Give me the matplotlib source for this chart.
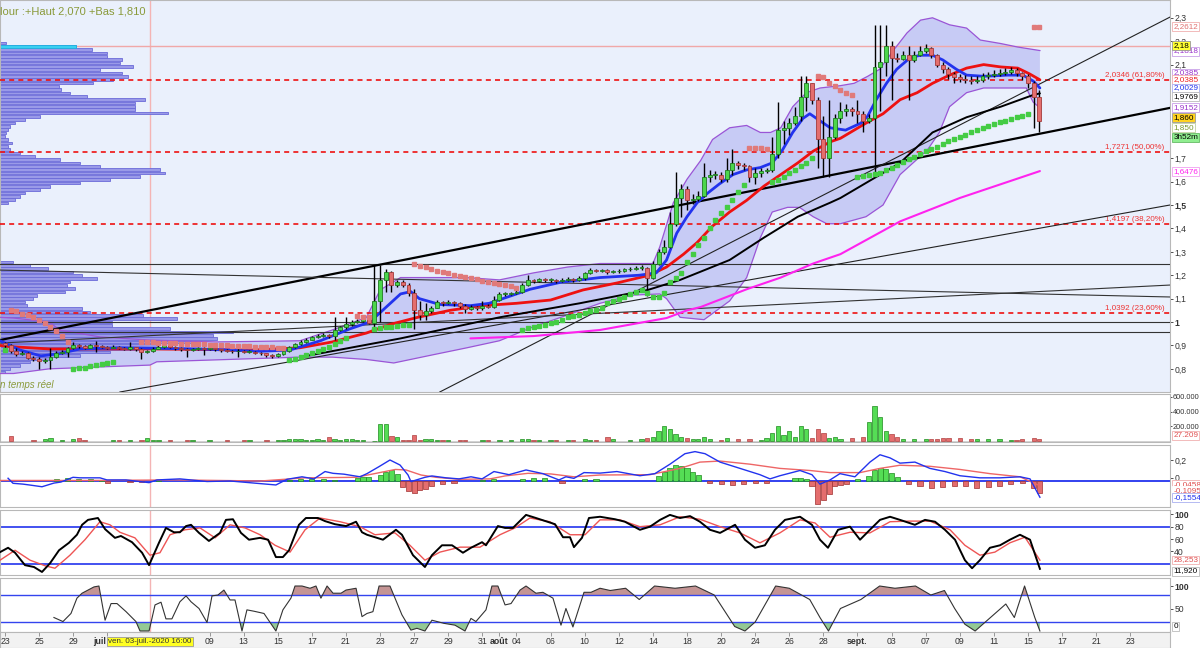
import matplotlib
matplotlib.use("Agg")
import matplotlib.pyplot as plt
import numpy as np

plt.rcParams["font.family"] = ["Liberation Sans", "DejaVu Sans"]

# 3 bars per trading day, bar i sits at day i/3 (day 0 = mardi 23 juin 2020)
first_open = 0.910
closes = [
    0.900, 0.875, 0.862, 0.866, 0.848, 0.842, 0.832, 0.836, 0.852, 0.866, 0.872, 0.890,
    0.902, 0.897, 0.890, 0.900, 0.898, 0.895, 0.890, 0.895, 0.890, 0.886, 0.892, 0.886,
    0.872, 0.876, 0.886, 0.895, 0.902, 0.894, 0.888, 0.884, 0.880, 0.885, 0.888, 0.884,
    0.887, 0.883, 0.880, 0.878, 0.875, 0.878, 0.872, 0.874, 0.868, 0.866, 0.860, 0.855,
    0.862, 0.876, 0.892, 0.906, 0.915, 0.925, 0.934, 0.940, 0.946, 0.940, 0.968, 0.978,
    0.990, 1.000, 1.005, 1.020, 0.996, 1.090, 1.180, 1.215, 1.160, 1.170, 1.160, 1.125,
    1.050, 1.030, 1.045, 1.062, 1.085, 1.080, 1.086, 1.080, 1.070, 1.055, 1.065, 1.060,
    1.070, 1.065, 1.095, 1.120, 1.120, 1.122, 1.130, 1.160, 1.180, 1.175, 1.185, 1.180,
    1.180, 1.175, 1.180, 1.185, 1.180, 1.186, 1.210, 1.222, 1.220, 1.222, 1.212, 1.216,
    1.220, 1.225, 1.226, 1.230, 1.232, 1.190, 1.250, 1.300, 1.320, 1.420, 1.530, 1.570,
    1.520, 1.525, 1.540, 1.620, 1.630, 1.630, 1.610, 1.650, 1.680, 1.670, 1.665, 1.620,
    1.635, 1.645, 1.650, 1.720, 1.820, 1.830, 1.850, 1.880, 1.960, 2.020, 1.950, 1.780,
    1.700, 1.790, 1.870, 1.900, 1.910, 1.900, 1.890, 1.860, 1.870, 2.090, 2.110, 2.180,
    2.130, 2.125, 2.140, 2.120, 2.140, 2.160, 2.170, 2.140, 2.100, 2.080, 2.060, 2.045,
    2.040, 2.035, 2.030, 2.035, 2.050, 2.055, 2.060, 2.065, 2.070, 2.075, 2.065, 2.050,
    2.020, 1.960, 1.860]
highs = [
    0.915, 0.905, 0.890, 0.875, 0.870, 0.855, 0.850, 0.845, 0.890, 0.875, 0.880, 0.895,
    0.915, 0.905, 0.900, 0.905, 0.920, 0.900, 0.898, 0.900, 0.897, 0.895, 0.915, 0.895,
    0.890, 0.882, 0.892, 0.900, 0.908, 0.905, 0.897, 0.892, 0.888, 0.890, 0.895, 0.892,
    0.893, 0.890, 0.886, 0.884, 0.882, 0.900, 0.880, 0.880, 0.876, 0.872, 0.868, 0.864,
    0.868, 0.882, 0.898, 0.912, 0.922, 0.932, 0.942, 0.948, 0.952, 0.950, 1.020, 0.985,
    1.020, 1.008, 1.012, 1.030, 1.025, 1.245, 1.245, 1.225, 1.220, 1.180, 1.180, 1.165,
    1.140, 1.090, 1.080, 1.070, 1.095, 1.090, 1.095, 1.090, 1.085, 1.075, 1.072, 1.070,
    1.090, 1.075, 1.110, 1.130, 1.128, 1.130, 1.140, 1.168, 1.200, 1.185, 1.190, 1.188,
    1.190, 1.185, 1.190, 1.192, 1.190, 1.195, 1.215, 1.230, 1.228, 1.228, 1.225, 1.222,
    1.228, 1.232, 1.235, 1.240, 1.245, 1.235, 1.260, 1.310, 1.350, 1.470, 1.640, 1.590,
    1.580, 1.545, 1.560, 1.680, 1.650, 1.645, 1.640, 1.700, 1.740, 1.690, 1.680, 1.670,
    1.660, 1.660, 1.660, 1.790, 1.940, 1.860, 1.870, 1.920, 2.050, 2.050, 2.000, 1.960,
    1.880, 1.950, 1.890, 1.940, 1.930, 1.920, 1.950, 1.900, 1.890, 2.270, 2.270, 2.270,
    2.200, 2.150, 2.160, 2.180, 2.160, 2.180, 2.190, 2.175, 2.145, 2.110, 2.090, 2.070,
    2.060, 2.055, 2.050, 2.050, 2.065, 2.070, 2.075, 2.080, 2.085, 2.090, 2.085, 2.070,
    2.060, 2.030, 1.990]
lows = [
    0.890, 0.868, 0.855, 0.858, 0.840, 0.835, 0.800, 0.825, 0.800, 0.848, 0.862, 0.850,
    0.885, 0.890, 0.884, 0.888, 0.870, 0.890, 0.885, 0.887, 0.884, 0.880, 0.882, 0.875,
    0.840, 0.868, 0.872, 0.884, 0.890, 0.888, 0.882, 0.878, 0.850, 0.876, 0.880, 0.860,
    0.880, 0.877, 0.874, 0.872, 0.868, 0.850, 0.866, 0.868, 0.862, 0.858, 0.852, 0.845,
    0.850, 0.858, 0.872, 0.888, 0.902, 0.912, 0.922, 0.930, 0.935, 0.930, 0.925, 0.960,
    0.972, 0.985, 0.995, 1.000, 0.990, 0.970, 1.000, 1.130, 1.130, 1.150, 1.150, 1.110,
    0.970, 1.010, 1.010, 1.040, 1.058, 1.070, 1.075, 1.070, 1.060, 1.040, 1.050, 1.050,
    1.050, 1.058, 1.060, 1.090, 1.112, 1.115, 1.118, 1.125, 1.155, 1.165, 1.170, 1.172,
    1.170, 1.165, 1.170, 1.175, 1.170, 1.175, 1.180, 1.205, 1.212, 1.212, 1.205, 1.208,
    1.210, 1.215, 1.218, 1.222, 1.222, 1.110, 1.185, 1.245, 1.290, 1.315, 1.410, 1.450,
    1.480, 1.505, 1.515, 1.535, 1.600, 1.610, 1.600, 1.600, 1.630, 1.655, 1.650, 1.600,
    1.590, 1.620, 1.635, 1.640, 1.700, 1.760, 1.800, 1.840, 1.860, 1.900, 1.930, 1.660,
    1.620, 1.620, 1.780, 1.850, 1.880, 1.880, 1.850, 1.810, 1.850, 1.640, 1.900, 2.050,
    1.950, 2.110, 2.120, 1.950, 2.110, 2.135, 2.150, 2.130, 2.090, 2.065, 2.040, 2.020,
    2.025, 2.020, 2.015, 2.020, 2.025, 2.040, 2.045, 2.050, 2.055, 2.060, 2.050, 2.035,
    2.000, 1.830, 1.810]

# volume (thousands) for the bars that show a visible column
vol_bar = [1, 5, 7, 8, 10, 12, 13, 14, 19, 20, 22, 24, 25, 26, 27, 29, 32, 33, 36, 39,
           42, 43, 46, 48, 49, 50, 51, 52, 53, 54, 55, 56, 57, 58, 59, 60, 61, 62, 63, 65,
           66, 67, 68, 69, 70, 71, 72, 73, 74, 75, 76, 77, 78, 80, 81, 84, 85, 87, 89, 91,
           92, 93, 94, 96, 97, 99, 100, 102, 103, 104, 106, 107, 110, 112, 113, 114, 115, 116, 117, 118,
           119, 120, 121, 122, 123, 124, 126, 127, 129, 131, 133, 134, 135, 136, 137, 138, 139, 140, 141, 142,
           143, 144, 145, 146, 147, 149, 151, 152, 153, 154, 155, 156, 157, 158, 160, 162, 163, 164, 165, 166,
           168, 170, 171, 173, 175, 177, 178, 179, 181, 182]
vol_k = [62, 12, 25, 42, 12, 25, 42, 12, 12, 12, 12, 12, 42, 12, 12, 12, 12, 12, 12, 12,
         16, 8, 12, 12, 12, 25, 25, 25, 16, 16, 33, 8, 50, 29, 12, 25, 25, 12, 12, 4,
         229, 237, 75, 50, 12, 8, 83, 12, 25, 33, 12, 12, 12, 12, 12, 12, 8, 16, 12, 25,
         25, 12, 12, 12, 12, 12, 12, 25, 12, 12, 50, 30, 12, 30, 40, 60, 140, 200, 160, 100,
         60, 40, 30, 25, 50, 30, 20, 40, 30, 30, 20, 40, 110, 200, 80, 140, 60, 200, 160, 40,
         160, 110, 40, 60, 30, 40, 50, 260, 475, 325, 140, 90, 50, 30, 30, 25, 25, 30, 40, 35,
         40, 30, 25, 30, 25, 20, 20, 25, 40, 27]

# MACD histogram, bars with a visible column
macd_hist_bar = [9, 11, 13, 15, 17, 18, 22, 24, 27, 50, 52, 54, 56, 58, 62, 63, 64, 66, 67, 68,
                 69, 70, 71, 72, 73, 74, 75, 77, 79, 84, 86, 91, 93, 95, 98, 102, 104, 115, 116, 117,
                 118, 119, 120, 121, 122, 124, 126, 128, 130, 132, 134, 139, 140, 141, 142, 143, 144, 145, 146, 147,
                 148, 150, 152, 153, 154, 155, 156, 157, 159, 161, 163, 165, 167, 169, 171, 173, 175, 177, 179, 181,
                 182]
macd_hist = [0.015, 0.025, 0.02, 0.015, 0.01, -0.02, -0.01, -0.012, 0.01, 0.012, 0.015, 0.02, 0.015, 0.012, 0.03, 0.035, 0.04, 0.06, 0.09, 0.10,
             0.07, -0.06, -0.10, -0.11, -0.09, -0.08, -0.05, -0.03, -0.02, 0.01, 0.015, 0.02, 0.03, 0.025, -0.02, 0.02, 0.015, 0.05, 0.09, 0.12,
             0.15, 0.14, 0.12, 0.09, 0.06, -0.02, -0.03, -0.04, -0.03, -0.02, -0.02, 0.03, 0.03, 0.02, -0.05, -0.22, -0.18, -0.12, -0.05, -0.04,
             -0.03, 0.02, 0.05, 0.10, 0.12, 0.11, 0.08, 0.04, -0.03, -0.05, -0.07, -0.06, -0.05, -0.05, -0.07, -0.06, -0.05, -0.03, -0.02, -0.07,
             -0.11]

# (day, value) readings of the indicator curves
blue_ma = [(-0.3, 0.92), (0.9, 0.88), (2.1, 0.855), (3.2, 0.865), (4.4, 0.885), (6.7, 0.89), (11.4, 0.885),
           (15.0, 0.875), (16.7, 0.88), (18.5, 0.92), (20.2, 0.97), (21.4, 1.0), (22.3, 1.06), (23.2, 1.12),
           (23.8, 1.13), (24.3, 1.10), (25.5, 1.075), (27.3, 1.07), (28.4, 1.08), (29.6, 1.11), (30.8, 1.14),
           (32.6, 1.17), (34.9, 1.19), (37.2, 1.20), (38.2, 1.21), (38.8, 1.265), (39.4, 1.38), (40.0, 1.45),
           (40.6, 1.51), (41.2, 1.55), (41.9, 1.59), (42.7, 1.63), (43.5, 1.65), (44.3, 1.66), (45.0, 1.68),
           (45.6, 1.735), (46.2, 1.81), (46.8, 1.87), (47.2, 1.89), (47.8, 1.86), (48.4, 1.83), (49.3, 1.82),
           (50.2, 1.85), (50.6, 1.88), (51.1, 1.95), (51.7, 2.02), (52.3, 2.08), (53.1, 2.13), (53.7, 2.14),
           (54.4, 2.14), (55.0, 2.12), (55.8, 2.08), (56.4, 2.055), (57.4, 2.05), (58.8, 2.055), (59.7, 2.055),
           (60.3, 2.03), (60.7, 2.0)]
red_ma = [(-0.3, 0.90), (0.3, 0.895), (2.6, 0.885), (5.6, 0.885), (8.5, 0.885), (11.4, 0.883), (14.4, 0.88),
          (17.3, 0.89), (19.2, 0.915), (21.2, 0.953), (22.6, 0.99), (24.2, 1.02), (26.1, 1.05), (28.0, 1.07),
          (30.0, 1.08), (32.0, 1.094), (33.9, 1.137), (35.9, 1.167), (37.8, 1.20), (38.8, 1.235), (39.8, 1.29),
          (40.6, 1.34), (41.5, 1.41), (42.5, 1.47), (43.5, 1.52), (44.5, 1.58), (45.5, 1.63), (46.5, 1.68),
          (47.4, 1.73), (48.4, 1.77), (49.0, 1.785), (50.5, 1.85), (51.5, 1.89), (52.5, 1.95), (53.5, 1.98),
          (54.4, 2.02), (55.4, 2.055), (56.4, 2.085), (57.4, 2.10), (58.4, 2.09), (59.4, 2.085), (60.1, 2.06),
          (60.7, 2.035)]
black_ma = [(17.3, 0.85), (23.2, 0.93), (29.0, 1.02), (33.7, 1.08), (37.7, 1.137), (39.6, 1.18), (42.5, 1.265),
            (44.5, 1.36), (46.5, 1.45), (48.4, 1.51), (49.0, 1.53), (52.5, 1.68), (54.4, 1.81), (56.4, 1.875),
            (58.4, 1.92), (60.3, 1.97), (60.7, 1.977)]
magenta_ma = [(27.3, 0.93), (31.0, 0.94), (34.9, 0.966), (38.8, 1.017), (40.0, 1.05), (40.8, 1.064), (43.5, 1.14),
              (45.5, 1.19), (47.4, 1.25), (49.0, 1.29), (52.5, 1.43), (56.0, 1.53), (60.7, 1.645)]
bb_upper = [(-0.3, 1.02), (0.5, 1.017), (2.6, 1.0), (3.2, 0.966), (5.6, 0.936), (8.5, 0.923), (12.4, 0.915),
            (17.3, 0.92), (19.2, 0.966), (21.2, 1.02), (22.0, 1.137), (23.2, 1.19), (25.1, 1.19), (27.1, 1.19),
            (29.0, 1.18), (31.0, 1.21), (33.0, 1.235), (34.9, 1.25), (36.8, 1.25), (38.0, 1.25), (38.4, 1.32),
            (39.2, 1.51), (40.0, 1.61), (40.8, 1.69), (41.5, 1.78), (42.5, 1.83), (43.5, 1.84), (44.3, 1.81),
            (44.9, 1.81), (45.5, 1.83), (46.2, 1.92), (47.0, 1.98), (47.8, 2.0), (49.0, 2.01), (49.8, 2.02),
            (50.6, 2.05), (51.3, 2.08), (52.1, 2.16), (52.9, 2.235), (53.7, 2.29), (54.4, 2.30), (55.4, 2.27),
            (56.4, 2.256), (57.2, 2.205), (58.4, 2.19), (59.4, 2.175), (60.7, 2.16)]
bb_lower = [(-0.3, 0.78), (0.5, 0.78), (2.6, 0.80), (8.5, 0.816), (8.9, 0.83), (17.3, 0.85), (19.2, 0.85),
            (21.2, 0.84), (22.8, 0.825), (25.1, 0.86), (27.1, 0.89), (29.0, 0.92), (31.0, 0.98), (33.0, 1.03),
            (34.9, 1.08), (36.8, 1.115), (38.4, 1.12), (38.8, 1.10), (39.6, 1.02), (41.0, 1.01), (42.5, 1.09),
            (43.5, 1.19), (44.3, 1.36), (45.0, 1.47), (45.9, 1.49), (46.6, 1.49), (47.4, 1.45), (48.2, 1.42),
            (49.0, 1.42), (50.5, 1.45), (51.5, 1.50), (52.5, 1.63), (54.1, 1.735), (54.8, 1.81), (55.4, 1.92),
            (56.4, 1.98), (57.4, 2.0), (58.8, 2.0), (59.9, 2.0), (60.3, 1.94), (60.7, 1.915)]

# parabolic SAR: (first bar, values)
sar_segments = [
    (0, [0.880]),
    (1, [1.050, 1.045, 1.035, 1.028, 1.020, 1.008, 0.995, 0.980, 0.962, 0.940, 0.915]),
    (12, [0.800, 0.802, 0.805, 0.810, 0.815, 0.820, 0.825, 0.830]),
    (24, [0.915, 0.914, 0.913, 0.912, 0.911, 0.910, 0.909, 0.908, 0.907, 0.906, 0.905, 0.904, 0.903,
          0.902, 0.901, 0.900, 0.899, 0.898, 0.897, 0.896, 0.895, 0.894, 0.893, 0.892, 0.890, 0.888]),
    (50, [0.838, 0.842, 0.850, 0.858, 0.867, 0.875, 0.884, 0.893, 0.905, 0.918, 0.930]),
    (62, [1.025, 1.022, 1.020]),
    (65, [0.970, 0.974, 0.977, 0.980, 0.983, 0.986, 0.988]),
    (72, [1.248, 1.240, 1.233, 1.226, 1.220, 1.214, 1.208, 1.202, 1.197, 1.192, 1.187, 1.182, 1.177,
          1.172, 1.167, 1.162, 1.157, 1.152, 1.147]),
    (91, [0.965, 0.975, 0.979, 0.983, 0.989, 0.995, 1.002, 1.009, 1.020, 1.025, 1.030, 1.038, 1.045,
          1.052, 1.060, 1.080, 1.090, 1.100, 1.109, 1.118, 1.128, 1.137, 1.124, 1.107, 1.107, 1.124,
          1.170, 1.190, 1.210, 1.256, 1.290, 1.330, 1.360, 1.400, 1.435, 1.465, 1.490, 1.520, 1.555, 1.585]),
    (131, [1.745, 1.745, 1.742, 1.740]),
    (135, [1.600, 1.605, 1.620, 1.635, 1.650, 1.665, 1.680, 1.700]),
    (143, [2.050, 2.045, 2.020, 2.010, 1.990, 1.980, 1.970]),
    (150, [1.620, 1.625, 1.630, 1.632, 1.636, 1.648, 1.660, 1.672, 1.685, 1.695, 1.705, 1.718, 1.730,
           1.740, 1.750, 1.762, 1.772, 1.780, 1.790, 1.800, 1.810, 1.820, 1.830, 1.838, 1.845, 1.855,
           1.860, 1.868, 1.875, 1.880, 1.890]),
    (181, [2.262, 2.261]),
]

macd_line = [(0.18, 0.026), (0.47, -0.022), (1.06, -0.03), (1.52, -0.04), (2.17, -0.055), (2.87, -0.02),
             (3.28, -0.01), (3.99, 0.035), (4.40, 0.03), (5.57, 0.03), (5.98, 0.01), (7.10, 0.01),
             (8.45, -0.016), (8.91, 0.01), (10.26, 0.02), (11.85, -0.005), (13.20, 0.0), (15.89, -0.038),
             (16.54, 0.016), (17.42, 0.04), (18.12, 0.02), (18.77, 0.09), (19.24, 0.073), (19.88, 0.065),
             (20.82, 0.04), (21.23, 0.07), (21.94, 0.137), (22.58, 0.2), (23.17, 0.152), (23.64, 0.057),
             (23.81, -0.006), (24.63, 0.035), (25.04, 0.048), (25.87, 0.03), (26.63, 0.02), (27.33, 0.04),
             (27.98, 0.02), (28.68, 0.09), (29.56, 0.06), (30.56, 0.105), (31.55, 0.07), (32.49, 0.01),
             (32.90, 0.04), (33.37, 0.025), (33.96, 0.08), (34.90, 0.075), (35.89, 0.09), (37.24, 0.05),
             (38.12, 0.07), (39.0, 0.16), (39.88, 0.26), (40.47, 0.28), (41.06, 0.26), (41.94, 0.18),
             (43.11, 0.12), (44.28, 0.06), (44.87, 0.02), (45.45, 0.05), (46.63, 0.10), (47.33, 0.06),
             (47.80, -0.03), (48.39, 0.01), (48.97, 0.07), (49.85, 0.04), (50.73, 0.18), (51.32, 0.25),
             (51.91, 0.22), (52.49, 0.17), (53.37, 0.18), (54.25, 0.12), (55.13, 0.09), (56.01, 0.05),
             (57.18, 0.03), (58.36, 0.03), (59.53, 0.04), (60.12, 0.02), (60.70, -0.155)]
macd_signal = [(-0.3, 0.005), (5.0, 0.005), (10.0, 0.01), (15.0, 0.0), (17.6, 0.03), (20.6, 0.035),
               (22.9, 0.11), (23.52, 0.105), (24.40, 0.057), (25.28, 0.035), (26.63, 0.016), (28.45, 0.02),
               (29.33, 0.048), (30.67, 0.073), (32.02, 0.067), (33.37, 0.04), (34.90, 0.057), (37.83, 0.06),
               (39.59, 0.12), (40.76, 0.18), (41.94, 0.19), (43.70, 0.16), (45.45, 0.12), (47.21, 0.10),
               (48.39, 0.08), (50.15, 0.08), (51.32, 0.12), (52.49, 0.15), (54.25, 0.14), (56.01, 0.11),
               (57.77, 0.07), (59.53, 0.04), (60.70, -0.046)]

stoch_k = [(-0.29, 39), (0.18, 46), (0.59, 38), (1.17, 18), (1.70, 15), (2.17, 7), (2.64, 21), (3.17, 42),
           (3.75, 54), (4.22, 67), (4.52, 83), (4.87, 91), (5.45, 94), (5.87, 76), (6.45, 62), (6.80, 65),
           (7.45, 55), (8.04, 38), (8.45, 18), (9.03, 54), (9.44, 78), (9.91, 71), (10.26, 71), (10.62, 81),
           (10.91, 83), (11.38, 70), (11.96, 57), (12.61, 70), (12.96, 91), (13.37, 92), (13.84, 70),
           (14.31, 59), (14.96, 62), (15.43, 59), (15.89, 31), (16.30, 31), (16.66, 42), (17.24, 83),
           (17.65, 94), (18.36, 94), (18.77, 89), (19.35, 84), (20.00, 81), (20.59, 88), (20.94, 71),
           (21.23, 67), (22.17, 59), (22.93, 75), (23.28, 67), (23.93, 34), (24.63, 15), (25.04, 34),
           (25.63, 50), (26.22, 50), (26.86, 38), (27.33, 46), (27.98, 55), (28.21, 50), (28.91, 81),
           (29.33, 78), (29.79, 78), (30.56, 99), (31.14, 94), (32.26, 84), (32.73, 63), (33.14, 63),
           (33.37, 47), (33.84, 62), (34.25, 94), (34.90, 96), (35.78, 92), (36.36, 88), (37.24, 75),
           (37.83, 80), (38.42, 91), (39.00, 99), (39.59, 94), (40.18, 97), (40.76, 88), (41.35, 75),
           (41.94, 70), (42.82, 83), (43.40, 59), (43.99, 46), (44.57, 50), (45.16, 75), (45.75, 91),
           (46.63, 96), (47.33, 83), (47.80, 59), (48.27, 46), (48.86, 75), (49.56, 80), (50.15, 59),
           (50.73, 75), (51.32, 91), (51.91, 96), (52.49, 91), (53.37, 83), (53.96, 91), (54.55, 88),
           (55.13, 75), (55.72, 59), (56.30, 26), (56.72, 13), (57.18, 26), (57.77, 46), (58.36, 50),
           (58.94, 59), (59.53, 67), (60.12, 59), (60.70, 12)]
stoch_d = [(-0.29, 26), (0.59, 42), (1.47, 26), (2.35, 17), (2.93, 13), (3.81, 34), (4.69, 59), (5.57, 88),
           (6.16, 83), (6.74, 71), (7.62, 62), (8.50, 34), (9.09, 38), (9.68, 67), (10.56, 75), (11.44, 78),
           (12.32, 62), (13.20, 83), (14.08, 78), (14.96, 67), (15.84, 50), (16.72, 39), (17.60, 75),
           (18.48, 94), (19.65, 88), (20.82, 80), (21.70, 67), (22.87, 70), (23.75, 50), (24.63, 26),
           (25.51, 39), (26.69, 47), (27.86, 47), (29.03, 67), (29.91, 78), (30.79, 94), (31.96, 88),
           (33.14, 67), (34.02, 67), (34.90, 91), (36.07, 91), (37.24, 80), (38.42, 83), (39.59, 96),
           (40.76, 92), (41.94, 80), (43.11, 70), (44.28, 54), (45.45, 70), (46.63, 91), (47.51, 86),
           (48.39, 63), (49.56, 71), (50.73, 70), (51.91, 88), (53.08, 89), (54.25, 89), (55.43, 75),
           (56.30, 50), (57.18, 34), (58.06, 39), (58.94, 54), (59.82, 63), (60.70, 26)]

osc = [(2.87, 30), (3.40, 21), (3.87, 39), (4.22, 73), (4.52, 84), (5.22, 98), (5.51, 100), (5.87, 24),
       (6.22, 61), (6.57, 61), (7.10, 43), (7.68, 21), (7.92, 0), (8.45, 0), (8.80, 58), (9.15, 64),
       (9.44, 27), (9.79, 27), (10.26, 65), (10.62, 78), (10.91, 65), (11.38, 50), (11.85, 19), (12.14, 78),
       (12.49, 80), (12.84, 91), (13.20, 69), (13.49, 69), (13.90, 0), (14.19, 47), (14.60, 44), (15.19, 39),
       (15.89, 0), (16.30, 47), (16.77, 73), (17.01, 100), (17.42, 100), (17.89, 95), (18.24, 100),
       (18.53, 73), (18.89, 100), (19.24, 84), (19.71, 84), (20.00, 91), (20.59, 95), (20.94, 32),
       (21.23, 39), (21.58, 43), (21.94, 100), (22.58, 100), (23.28, 36), (23.81, 2), (24.16, 6), (24.63, 0),
       (25.04, 24), (25.75, 17), (26.39, 13), (26.98, 0), (27.33, 28), (27.62, 21), (28.21, 47), (28.56, 100),
       (28.91, 100), (29.33, 58), (29.68, 61), (30.21, 91), (30.56, 100), (31.14, 84), (31.55, 86),
       (32.14, 73), (32.61, 13), (32.90, 50), (33.31, 9), (33.96, 86), (34.37, 86), (34.90, 95),
       (35.5, 90), (36.4, 95), (37.2, 70), (38.1, 100), (39.3, 95), (40.5, 100), (41.6, 80), (42.8, 10),
       (43.4, 0), (44.0, 20), (45.2, 100), (46.0, 95), (47.2, 70), (47.8, 30), (48.3, 0), (49.0, 50),
       (50.2, 70), (51.3, 100), (52.2, 95), (53.4, 100), (54.3, 80), (55.1, 90), (55.7, 50), (56.3, 15),
       (56.9, 0), (57.5, 20), (58.1, 40), (58.7, 60), (59.2, 30), (59.8, 100), (60.4, 30), (60.7, 0)]

# volume-at-price profile on the left edge (lengths in screen units)
vp_top_len = [6, 76, 92, 107, 107, 122, 120, 133, 100, 122, 128, 113, 93, 59, 61, 70, 87, 145, 135, 135,
              135, 168, 40, 25, 15, 10, 8, 6, 5, 8, 12, 8, 10, 20, 35, 60, 80, 100, 160, 165,
              140, 110, 80, 50, 40, 25, 20, 15, 8]
vp_low_len = [13, 30, 48, 73, 82, 97, 70, 67, 75, 65, 37, 33, 25, 27, 82, 90, 143, 177, 112, 112,
              170, 233, 213, 217, 200, 157, 140, 110, 80, 50, 30, 20, 10, 5]

fib_levels = [2.0346, 1.7271, 1.4197, 1.0392]
fib_labels = ["2,0346 (61,80%)", "1,7271 (50,00%)", "1,4197 (38,20%)", "1,0392 (23,60%)"]

date_days = [0, 2, 4, 6, 12, 14, 16, 18, 20, 22, 24, 26, 28, 29, 30, 32, 34, 36, 38, 40, 42, 44, 46, 48,
             50, 52, 54, 56, 58, 60, 62, 64, 66]
date_labels = ["23", "25", "29", "juil", "09", "13", "15", "17", "21", "23", "27", "29", "31", "août", "04",
               "06", "10", "12", "14", "18", "20", "24", "26", "28", "sept.", "03", "07", "09", "11", "15",
               "17", "21", "23"]

# ---------------------------------------------------------------- figure
W, H = 1200, 648
XMIN, XMAX = -0.293, 68.33
fig = plt.figure(figsize=(12, 6.48), dpi=100)
fig.patch.set_facecolor("white")


def panel(top, bottom, bg="white"):
    ax = fig.add_axes([0, 1 - bottom / H, 1170 / W, (bottom - top) / H])
    ax.set_xlim(XMIN, XMAX)
    ax.set_facecolor(bg)
    ax.set_xticks([])
    ax.yaxis.tick_right()
    ax.tick_params(axis="y", direction="out", length=2, labelsize=6.2, pad=1,
                   colors="#333333", width=0.6)
    for s in ax.spines.values():
        s.set_color("#b8b8b8")
    ax.axvline(8.5, color="#f4b4b4", lw=1.0, zorder=0.5)
    return ax


def tag(ax, y, text, color, face="white", edge=None):
    ax.annotate(text, xy=(1.0, y), xycoords=("axes fraction", "data"), xytext=(2.5, 0),
                textcoords="offset points", fontsize=5.9, color=color, va="center", ha="left",
                bbox=dict(boxstyle="square,pad=0.12", fc=face, ec=edge or "#bbbbbb", lw=0.6),
                annotation_clip=False, zorder=10)


def unzip(pts):
    return [p[0] for p in pts], [p[1] for p in pts]


ax = panel(0, 392, bg="#eaf0fc")
ax.set_ylim(0.701, 2.376)

# volume profile
step = 0.01425
top_p = 2.1923 - step * np.arange(len(vp_top_len))
low_p = 1.2564 - step * np.arange(len(vp_low_len))
to_days = 1 / 17.05
ax.barh(top_p, np.array(vp_top_len) * to_days, height=step * 0.85, left=XMIN,
        color="#9a9ae8", edgecolor="#6a6ad8", lw=0.6, zorder=2)
ax.barh(top_p[1], vp_top_len[1] * to_days, height=step * 0.85, left=XMIN,
        color="#38d0f0", edgecolor="#20b0e0", lw=0.6, zorder=2.1)
ax.barh(low_p, np.array(vp_low_len) * to_days, height=step * 0.85, left=XMIN,
        color="#9a9ae8", edgecolor="#6a6ad8", lw=0.6, zorder=2)

# bollinger bands
ux, uy = unzip(bb_upper)
lx, ly = unzip(bb_lower)
ax.fill(ux + lx[::-1], uy + ly[::-1], color="#c6c9f5", alpha=0.95, zorder=1, lw=0)
ax.plot(ux, uy, color="#9a55d6", lw=0.9, zorder=3)
ax.plot(lx, ly, color="#9a55d6", lw=0.9, zorder=3)

# horizontal levels and trend lines
ax.axhline(2.18, color="#f0a8a8", lw=1.0, zorder=1.5)
for lv in [1.248, 1.0, 0.957]:
    ax.axhline(lv, color="#333333", lw=0.8, zorder=3)
for lv, lab in zip(fib_levels, fib_labels):
    ax.axhline(lv, color="#ee1111", lw=1.2, ls=(0, (3, 2.5)), zorder=3)
    ax.text(68.0, lv + 0.004, lab, color="#ee3333", fontsize=5.8, ha="right", va="bottom", zorder=3)
ax.plot([XMIN, XMAX], [0.923, 1.915], color="black", lw=1.6, zorder=3)
ax.plot([25.5, XMAX], [0.701, 2.303], color="#222222", lw=0.8, zorder=3)
ax.plot([6.74, XMAX], [0.701, 1.50], color="#222222", lw=0.8, zorder=3)
ax.plot([XMIN, XMAX], [1.222, 1.107], color="#333333", lw=0.8, zorder=3)
ax.plot([XMIN, XMAX], [0.91, 1.158], color="#333333", lw=0.8, zorder=3)

# moving averages
for pts, col, lw in [(magenta_ma, "#ff22ee", 1.5), (black_ma, "black", 1.4),
                     (red_ma, "#ee1111", 2.0), (blue_ma, "#2233ee", 2.0)]:
    x, y = unzip(pts)
    ax.plot(x, y, color=col, lw=lw, zorder=4, solid_capstyle="round")

# candles
n = len(closes)
bx = np.arange(n) / 3.0
opens = [first_open] + closes[:-1]
for i in range(n):
    o, c = opens[i], closes[i]
    hi, lo = max(highs[i], o, c), min(lows[i], o, c)
    up = c >= o
    ax.vlines(bx[i], lo, hi, color="black", lw=1.0, zorder=5)
    body = max(abs(c - o), 0.003)
    ax.bar(bx[i], body, bottom=min(o, c), width=0.23,
           color="#4cd64c" if up else "#e46e6e",
           edgecolor="#1f7a1f" if up else "#a33a3a", lw=0.6, zorder=6)

# parabolic SAR
for start, vals in sar_segments:
    for k, v in enumerate(vals):
        i = start + k
        col = "#e07a7a" if v > closes[i] else "#44cc44"
        ax.plot(bx[i], v, marker="s", ms=3.2, color=col, mec=col, zorder=7, ls="none")

ax.set_yticks([0.8, 0.9, 1.0, 1.1, 1.2, 1.3, 1.4, 1.5, 1.6, 1.7, 2.1, 2.2, 2.3])
ax.set_yticklabels(["0,8", "0,9", "1", "1,1", "1,2", "1,3", "1,4", "1,5", "1,6", "1,7", "2,1", "2,2", "2,3"])
for t in ax.get_yticklabels():
    if t.get_text() in ("1", "1,5"):
        t.set_fontweight("bold")

tag(ax, 2.2612, "2,2612", "#e07070", edge="#f0b0b0")
tag(ax, 2.064, "2,0385", "#9933cc", edge="#c9a0e8")
tag(ax, 2.158, "2,1818", "#9933cc", edge="#c9a0e8")
tag(ax, 2.18, "2,18", "black", face="#ffff33", edge="#999999")
tag(ax, 2.038, "2,0385", "#ee2222", edge="#f0b0b0")
tag(ax, 2.0, "2,0029", "#2233ee", edge="#aab0f0")
tag(ax, 1.962, "1,9769", "black")
tag(ax, 1.915, "1,9152", "#9933cc", edge="#c9a0e8")
tag(ax, 1.872, "1,860", "black", face="#ffd21f", edge="#999999")
tag(ax, 1.833, "1,850", "#7a9a30", edge="#c0d0a0")
tag(ax, 1.79, "3h52m", "black", face="#90ee90", edge="#66bb66")
tag(ax, 1.645, "1,6476", "#ff22ee", edge="#f0a0f0")

fig.text(0.0, 1 - 11 / H, "lour :+Haut 2,070 +Bas 1,810", color="#8a9a3a", fontsize=8, va="center")
fig.text(0.0, 1 - 385 / H, "n temps réel", color="#8a9a3a", fontsize=7, style="italic", va="center")

# volume
axv = panel(394, 442)
axv.set_ylim(-12500, 637500)
vx = [bx[i] for i in vol_bar]
vcol = ["#55dd55" if closes[i] >= opens[i] else "#e46e6e" for i in vol_bar]
vedge = ["#1f8a1f" if closes[i] >= opens[i] else "#b04040" for i in vol_bar]
axv.bar(vx, np.array(vol_k) * 1000, width=0.25, color=vcol, edgecolor=vedge, lw=0.5, zorder=3)
axv.axhline(0, color="#cccccc", lw=0.6)
axv.set_yticks([200000, 400000, 600000])
axv.set_yticklabels(["200.000", "400.000", "600.000"])
axv.tick_params(axis="y", labelsize=5.3, pad=0.4, length=1.5)
tag(axv, 75000, "27.209", "#e05050", edge="#f0b0b0")

# MACD
axm = panel(445, 507)
axm.set_ylim(-0.248, 0.343)
hx = [bx[i] for i in macd_hist_bar]
hcol = ["#55dd55" if h >= 0 else "#e46e6e" for h in macd_hist]
hedge = ["#1f8a1f" if h >= 0 else "#a03030" for h in macd_hist]
axm.bar(hx, macd_hist, width=0.3, color=hcol, edgecolor=hedge, lw=0.5, zorder=3)
axm.axhline(0, color="#2233ee", lw=1.3, zorder=2)
x, y = unzip(macd_signal)
axm.plot(x, y, color="#ee6666", lw=1.0, zorder=4)
x, y = unzip(macd_line)
axm.plot(x, y, color="#2233ee", lw=1.0, zorder=5)
axm.set_yticks([0.2, 0.03])
axm.set_yticklabels(["0,2", "0"])
tag(axm, -0.035, "-0,0458", "#e05050", edge="#f0b0b0")
tag(axm, -0.095, "-0,1095", "#e05050", edge="white")
tag(axm, -0.157, "-0,1554", "#2233ee", edge="#aab0f0")

# stochastic
axs = panel(510, 575)
axs.set_ylim(2.1, 106.9)
axs.axhline(80, color="#2233ee", lw=1.2)
axs.axhline(20, color="#2233ee", lw=1.2)
x, y = unzip(stoch_d)
axs.plot(x, y, color="#ee5555", lw=1.0, zorder=3)
x, y = unzip(stoch_k)
axs.plot(x, y, color="black", lw=1.4, zorder=4)
axs.set_yticks([100, 80, 60, 40])
axs.set_yticklabels(["100", "80", "60", "40"])
axs.get_yticklabels()[0].set_fontweight("bold")
tag(axs, 26.3, "28,253", "#e05050", edge="#f0b0b0")
tag(axs, 8.5, "11,920", "black")

# oscillator
axo = panel(578, 632)
axo.set_ylim(-2.2, 117.8)
axo.axhline(80, color="#3344ee", lw=1.0)
axo.axhline(20, color="#3344ee", lw=1.0)
ox, oy = unzip(osc)
ox, oy = np.array(ox), np.array(oy)
axo.fill_between(ox, oy, 80, where=oy >= 80, interpolate=True, color="#b07070", alpha=0.75, lw=0)
axo.fill_between(ox, oy, 20, where=oy <= 20, interpolate=True, color="#70b870", alpha=0.75, lw=0)
axo.plot(ox, oy, color="#333333", lw=0.8, zorder=4)
axo.set_yticks([100, 50])
axo.set_yticklabels(["100", "50"])
axo.get_yticklabels()[0].set_fontweight("bold")
tag(axo, 9, "0", "black")

# date strip
axd = fig.add_axes([0, 0, 1170 / W, 16 / H])
axd.set_xlim(XMIN, XMAX)
axd.set_ylim(0, 1)
axd.set_facecolor("#f2f2f2")
axd.set_xticks([])
axd.set_yticks([])
for s in axd.spines.values():
    s.set_color("#b8b8b8")
for d, lab in zip(date_days, date_labels):
    bold = lab in ("juil", "août", "sept.")
    axd.vlines(d, 0.78, 1.0, color="#888888", lw=0.6)
    axd.text(d - (0.45 if lab == "juil" else 0), 0.38, lab, ha="center", va="center", fontsize=6.3,
             color="#333333", fontweight="bold" if bold else "normal")
axd.text(8.5, 0.4, "ven. 03-juil.-2020 16:00", ha="center", va="center", fontsize=5.8,
         color="#333333", bbox=dict(boxstyle="square,pad=0.12", fc="#ffff22", ec="#999999", lw=0.6),
         zorder=5)

fig.savefig("out.png", dpi=100)
